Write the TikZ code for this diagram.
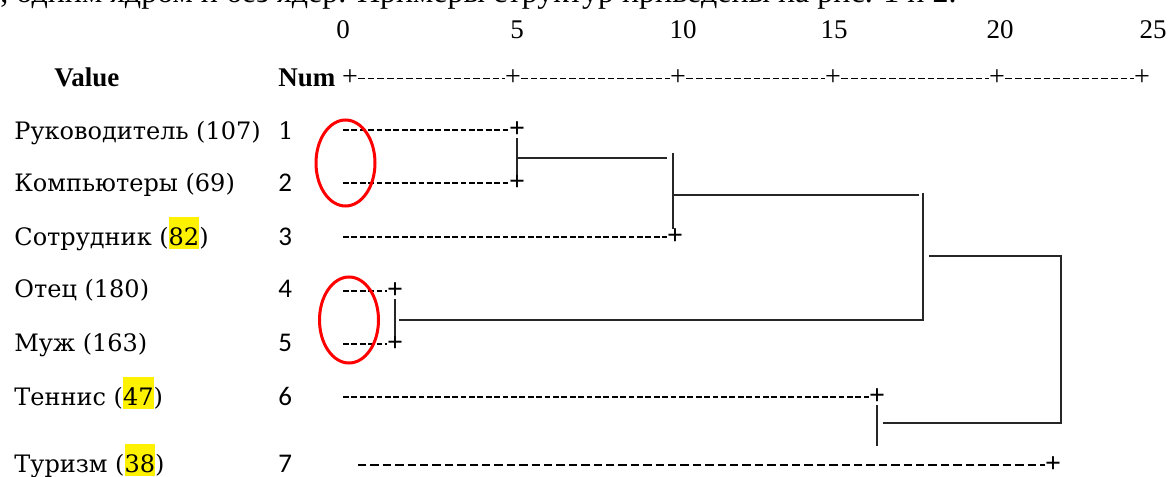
\documentclass[tikz,border=0pt]{standalone}
\usepackage{fontspec}
\setmainfont{Liberation Serif}
\newfontfamily\labelfont{DejaVu Serif}
\newfontfamily\calfont{Carlito}
\usetikzlibrary{positioning}
\usetikzlibrary{shapes.geometric}
\tikzstyle{leafline} = [line width=1.1pt, dash pattern=on 2.85pt off 1.35pt]
\tikzstyle{farline} = [line width=0.6pt, dash pattern=on 4.2pt off 2pt]
\tikzstyle{axisline} = [line width=0.5pt, dash pattern=on 3.3pt off 1.5pt]
\tikzstyle{joinline} = [line width=0.7pt, black!85]
\tikzstyle{tick} = [inner sep=0pt, font=\fontsize{14}{14}\selectfont]
\tikzstyle{leafend} = [inner sep=0pt, font=\bfseries\fontsize{14}{14}\selectfont]
\tikzstyle{rowname} = [anchor=base west, inner sep=0pt, font=\labelfont\fontsize{12}{14}\selectfont]
\tikzstyle{rownum} = [anchor=base west, inner sep=0pt, font=\calfont\fontsize{13.5}{15}\selectfont]
\tikzstyle{scalenum} = [anchor=base, inner sep=0pt, font=\fontsize{13.5}{15}\selectfont]
\tikzstyle{header} = [anchor=base west, inner sep=0pt, font=\bfseries\fontsize{13.5}{15}\selectfont]
\tikzstyle{ring} = [draw=red, line width=1.5pt, ellipse, minimum width=29.5pt, minimum height=43pt, inner sep=0pt]
\newcommand{\hlt}[1]{{\setlength{\fboxsep}{0pt}\colorbox{yellow}{\rule[-0.15em]{0pt}{1.3em}#1}}}

\begin{document}
\begin{tikzpicture}[x=0.5pt, y=-0.5pt]
  \useasboundingbox (0,0) rectangle (1169,477);
  \node[anchor=base west, inner sep=0pt, font=\fontsize{16}{18}\selectfont] (prev) at (0,2) {, одним ядром и без ядер. Примеры структур приведены на рис. 1 и 2.};

  \node[scalenum] (n0) at (343,38) {0};
  \node[scalenum] (n5) at (517,38) {5};
  \node[scalenum] (n10) at (683,38) {10};
  \node[scalenum] (n15) at (834,38) {15};
  \node[scalenum] (n20) at (1000,38) {20};
  \node[scalenum] (n25) at (1153,38) {25};

  \node[header] (value) at (54,86) {Value};
  \node[header] (num) at (278,86) {Num};
  \node[tick] (a0) at (350,78) {+};
  \node[tick] (a1) at (513,78) {+};
  \node[tick] (a2) at (678,78) {+};
  \node[tick] (a3) at (833,78) {+};
  \node[tick] (a4) at (997,78) {+};
  \node[tick] (a5) at (1142,78) {+};
  \draw[axisline] (a0) -- (a1) -- (a2) -- (a3) -- (a4) -- (a5);

  \node[rowname] (r1) at (14,139) {Руководитель (107)};
  \node[rowname] (r2) at (14,191) {Компьютеры (69)};
  \node[rowname] (r3) at (14,245) {Сотрудник (\hlt{82})};
  \node[rowname] (r4) at (14,297) {Отец (180)};
  \node[rowname] (r5) at (14,351) {Муж (163)};
  \node[rowname] (r6) at (14,405) {Теннис (\hlt{47})};
  \node[rowname] (r7) at (14,472) {Туризм (\hlt{38})};

  \node[rownum, font=\labelfont\fontsize{12}{14}\selectfont] (k1) at (278,139) {1};
  \node[rownum] (k2) at (278,191) {2};
  \node[rownum] (k3) at (278,245) {3};
  \node[rownum] (k4) at (278,297) {4};
  \node[rownum] (k5) at (278,351) {5};
  \node[rownum] (k6) at (278,405) {6};
  \node[rownum] (k7) at (278,472) {7};

  \coordinate (s1) at (343,130);
  \coordinate (s2) at (343,183);
  \coordinate (s3) at (343,237);
  \coordinate (s4) at (343,291);
  \coordinate (s5) at (343,344);
  \coordinate (s6) at (343,397);
  \coordinate (s7) at (358,465);
  \node[leafend] (p1) at (517,130) {+};
  \node[leafend] (p2) at (517,183) {+};
  \node[leafend] (p3) at (675,237) {+};
  \node[leafend] (p4) at (395,291) {+};
  \node[leafend] (p5) at (395,344) {+};
  \node[leafend] (p6) at (877,397) {+};
  \node[leafend] (p7) at (1053,465) {+};
  \draw[leafline] (s1) -- (p1);
  \draw[leafline] (s2) -- (p2);
  \draw[leafline] (s3) -- (p3);
  \draw[leafline] (s4) -- (p4);
  \draw[leafline] (s5) -- (p5);
  \draw[leafline] (s6) -- (p6);
  \draw[farline] (s7) -- (p7);

  \coordinate (j12) at (517,158);
  \coordinate (j12e) at (667,158);
  \coordinate (b3) at (673,153);
  \coordinate (j123) at (673,195);
  \coordinate (j123e) at (919,195);
  \coordinate (j45) at (399,320);
  \coordinate (k45) at (923,320);
  \coordinate (k123) at (923,193);
  \coordinate (j15) at (929,256);
  \coordinate (fin) at (1061,256);
  \coordinate (fin2) at (1061,423);
  \coordinate (j67) at (883,423);
  \coordinate (v6) at (877,446);

  \draw[joinline] (p1) -- (p2);
  \draw[joinline] (j12) -- (j12e);
  \draw[joinline] (b3) -- (b3 |- p3.north);
  \draw[joinline] (j123) -- (j123e);
  \draw[joinline] (p4) -- (p5);
  \draw[joinline] (j45) -- (k45) -- (k123);
  \draw[joinline] (j15) -- (fin) -- (fin2) -- (j67);
  \draw[joinline] (p6) -- (v6);

  \node[ring] (ring1) at (345.5,163) {};
  \node[ring] (ring2) at (349,320) {};
\end{tikzpicture}
\end{document}
